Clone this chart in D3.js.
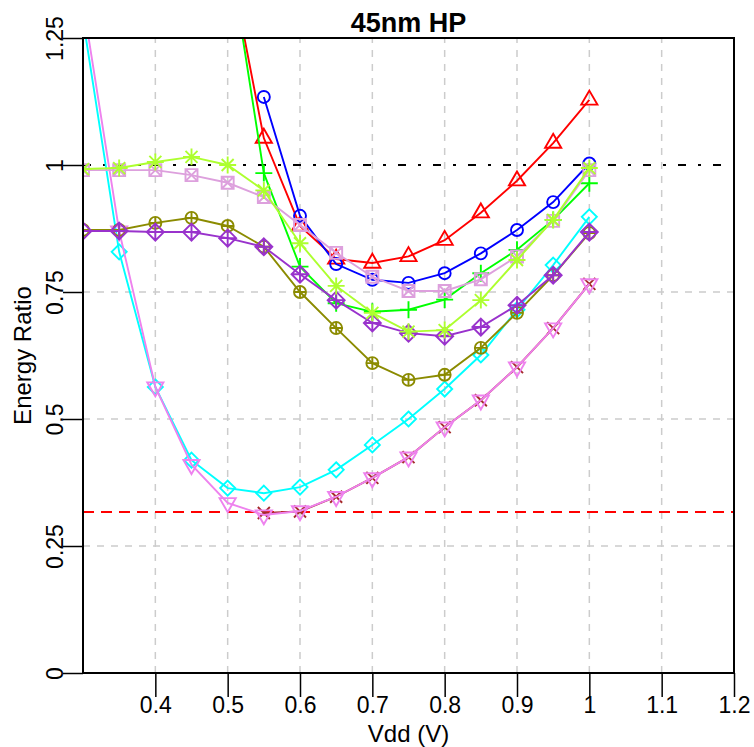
<!DOCTYPE html>
<html>
<head>
<meta charset="utf-8">
<script src="https://cdn.jsdelivr.net/npm/d3@7"></script>
<style>
  body { margin: 0; background: #fff; }
  text { font-family: "Liberation Sans", Arial, sans-serif; }
  .tick text { font-family: "Liberation Sans Narrow", "Liberation Sans", Arial, sans-serif; }
</style>
</head>
<body>
<div id="chart"></div>
<script>
const width = 754;
const height = 747;

// supply voltage sweep (V)
const vdd = [0.30, 0.35, 0.40, 0.45, 0.50, 0.55, 0.60, 0.65, 0.70, 0.75, 0.80, 0.85, 0.90, 0.95, 1.00];

// energy ratio per curve, null = not simulated
const redTriangle   = [null, null, null, null, 1.42, 1.053, 0.88, 0.815, 0.807, 0.82, 0.852, 0.906, 0.969, 1.043, 1.128];
const blueCircle    = [null, null, null, null, null, 1.134, 0.90, 0.805, 0.774, 0.768, 0.787, 0.826, 0.872, 0.927, 1.003];
const greenPlus     = [null, null, null, null, 1.44, 0.984, 0.80, 0.728, 0.711, 0.715, 0.735, 0.787, 0.833, 0.892, 0.964];
const cyanDiamond   = [1.287, 0.829, 0.563, 0.419, 0.364, 0.354, 0.366, 0.40, 0.449, 0.50, 0.559, 0.626, 0.715, 0.803, 0.898];
const brownCross    = [null, null, null, null, null, 0.315, 0.318, 0.347, 0.384, 0.425, 0.484, 0.537, 0.602, 0.679, 0.766];
const violetTri     = [1.32, 0.87, 0.563, 0.41, 0.335, 0.311, 0.319, 0.347, 0.384, 0.425, 0.484, 0.537, 0.602, 0.679, 0.766];
const oliveCircPlus = [0.872, 0.872, 0.886, 0.896, 0.88, 0.839, 0.75, 0.679, 0.61, 0.577, 0.587, 0.64, 0.709, 0.783, 0.866];
const purpleDiaPlus = [0.87, 0.87, 0.868, 0.868, 0.856, 0.839, 0.785, 0.734, 0.689, 0.669, 0.663, 0.681, 0.724, 0.783, 0.868];
const plumSquare    = [0.99, 0.99, 0.99, 0.98, 0.965, 0.937, 0.882, 0.827, 0.78, 0.752, 0.752, 0.775, 0.82, 0.89, 0.99];
const yellowStar    = [0.992, 0.994, 1.006, 1.016, 1.0, 0.95, 0.846, 0.762, 0.709, 0.672, 0.675, 0.734, 0.813, 0.892, 0.994];

// reference levels
const baseLevel = 1;
const minLevel = 0.317;

const xTicks = [0.4, 0.5, 0.6, 0.7, 0.8, 0.9, 1.0, 1.1, 1.2];
const yTicks = [0, 0.25, 0.5, 0.75, 1, 1.25];
const xGrid = [0.4, 0.5, 0.6, 0.7, 0.8, 0.9, 1.0, 1.1];
const yGrid = [0.25, 0.5, 0.75];

const series = [
  { values: redTriangle, color: "#ff0000", pch: 2 },
  { values: blueCircle, color: "#0000ff", pch: 1 },
  { values: greenPlus, color: "#00ff00", pch: 3 },
  { values: cyanDiamond, color: "#00ffff", pch: 5 },
  { values: brownCross, color: "#a52a2a", pch: 4 },
  { values: violetTri, color: "#ee82ee", pch: 6 },
  { values: oliveCircPlus, color: "#8b8b00", pch: 10 },
  { values: purpleDiaPlus, color: "#9932cc", pch: 9 },
  { values: plumSquare, color: "#dda0dd", pch: 7 },
  { values: yellowStar, color: "#adff2f", pch: 8 }
];

const margin = { top: 38, right: 20, bottom: 74, left: 83 };

const x = d3.scaleLinear().domain([0.3, 1.2]).range([margin.left, width - margin.right]);
const y = d3.scaleLinear().domain([0, 1.25]).range([height - margin.bottom, margin.top]);

const svg = d3.select("#chart").append("svg")
  .attr("width", width)
  .attr("height", height);

svg.append("defs").append("clipPath")
  .attr("id", "plotclip")
  .append("rect")
  .attr("x", x(0.3)).attr("y", y(1.25))
  .attr("width", x(1.2) - x(0.3)).attr("height", y(0) - y(1.25));

// grid
const grid = svg.append("g")
  .attr("stroke", "#cccccc")
  .attr("stroke-width", 1.5)
  .attr("stroke-dasharray", "7,7");
grid.selectAll(".vg").data(xGrid).enter().append("line")
  .attr("x1", d => x(d)).attr("x2", d => x(d))
  .attr("y1", y(0)).attr("y2", y(1.25));
grid.selectAll(".hg").data(yGrid).enter().append("line")
  .attr("x1", x(0.3)).attr("x2", x(1.2))
  .attr("y1", d => y(d)).attr("y2", d => y(d));

// reference lines
svg.append("line")
  .attr("x1", x(0.3)).attr("x2", x(1.2))
  .attr("y1", y(baseLevel)).attr("y2", y(baseLevel))
  .attr("stroke", "#000").attr("stroke-width", 2)
  .attr("stroke-dasharray", "8,12,3,12");
svg.append("line")
  .attr("x1", x(0.3)).attr("x2", x(1.2))
  .attr("y1", y(minLevel)).attr("y2", y(minLevel))
  .attr("stroke", "#ff0000").attr("stroke-width", 2)
  .attr("stroke-dasharray", "11,7");

// marker shapes, modelled on R's pch symbols
const s = 6;
function marker(g, pch) {
  const p = d3.path();
  if (pch === 1) {
    g.append("circle").attr("r", s);
    return;
  }
  if (pch === 2) {
    p.moveTo(0, -1.555 * s); p.lineTo(1.347 * s, 0.777 * s); p.lineTo(-1.347 * s, 0.777 * s); p.closePath();
  } else if (pch === 6) {
    p.moveTo(0, 1.555 * s); p.lineTo(1.347 * s, -0.777 * s); p.lineTo(-1.347 * s, -0.777 * s); p.closePath();
  } else if (pch === 3) {
    const c = 1.414 * s;
    p.moveTo(-c, 0); p.lineTo(c, 0); p.moveTo(0, -c); p.lineTo(0, c);
  } else if (pch === 4) {
    p.moveTo(-s, -s); p.lineTo(s, s); p.moveTo(-s, s); p.lineTo(s, -s);
  } else if (pch === 5) {
    const c = 1.253 * s;
    p.moveTo(0, -c); p.lineTo(c, 0); p.lineTo(0, c); p.lineTo(-c, 0); p.closePath();
  } else if (pch === 7) {
    p.rect(-s, -s, 2 * s, 2 * s);
    p.moveTo(-s, -s); p.lineTo(s, s); p.moveTo(-s, s); p.lineTo(s, -s);
  } else if (pch === 8) {
    const c = 1.414 * s;
    p.moveTo(-s, -s); p.lineTo(s, s); p.moveTo(-s, s); p.lineTo(s, -s);
    p.moveTo(-c, 0); p.lineTo(c, 0); p.moveTo(0, -c); p.lineTo(0, c);
  } else if (pch === 9) {
    const c = 1.414 * s;
    p.moveTo(0, -c); p.lineTo(c, 0); p.lineTo(0, c); p.lineTo(-c, 0); p.closePath();
    p.moveTo(-c, 0); p.lineTo(c, 0); p.moveTo(0, -c); p.lineTo(0, c);
  } else if (pch === 10) {
    g.append("circle").attr("r", s);
    p.moveTo(-s, 0); p.lineTo(s, 0); p.moveTo(0, -s); p.lineTo(0, s);
  }
  g.append("path").attr("d", p.toString());
}

const line = d3.line()
  .defined(d => d[1] != null)
  .x(d => x(d[0]))
  .y(d => y(d[1]));

const plot = svg.append("g").attr("clip-path", "url(#plotclip)");

series.forEach(function (sr) {
  const pts = vdd.map((v, i) => [v, sr.values[i]]);
  const g = plot.append("g")
    .attr("fill", "none")
    .attr("stroke", sr.color)
    .attr("stroke-width", 1.9);
  g.append("path").attr("d", line(pts));
  g.selectAll(".pt")
    .data(pts.filter(d => d[1] != null && d[1] <= 1.25))
    .enter().append("g")
    .attr("transform", d => "translate(" + x(d[0]) + "," + y(d[1]) + ")")
    .each(function () { marker(d3.select(this), sr.pch); });
});

// frame
svg.append("rect")
  .attr("x", x(0.3)).attr("y", y(1.25))
  .attr("width", x(1.2) - x(0.3)).attr("height", y(0) - y(1.25))
  .attr("fill", "none").attr("stroke", "#000").attr("stroke-width", 2);

// axes
const xAxis = svg.append("g")
  .attr("transform", "translate(0," + y(0) + ")")
  .call(d3.axisBottom(x).tickValues(xTicks).tickSize(24).tickFormat(d => String(+d.toFixed(2))));
xAxis.select(".domain").remove();
xAxis.selectAll("line").attr("stroke", "#000").attr("stroke-width", 1.5);
xAxis.selectAll("text")
  .attr("y", 40).attr("dy", 0)
  .style("font-size", "23px").attr("fill", "#000");

const yAxis = svg.append("g")
  .attr("transform", "translate(" + x(0.3) + ",0)")
  .call(d3.axisLeft(y).tickValues(yTicks).tickSize(20).tickFormat(d => String(d)));
yAxis.select(".domain").remove();
yAxis.selectAll("line").attr("stroke", "#000").attr("stroke-width", 1.5);
yAxis.selectAll("text")
  .attr("x", null).attr("dy", null)
  .attr("text-anchor", "middle")
  .attr("transform", "translate(-20,0) rotate(-90)")
  .style("font-size", "23px").attr("fill", "#000");

// titles
svg.append("text")
  .attr("x", (x(0.3) + x(1.2)) / 2)
  .attr("y", 32)
  .attr("text-anchor", "middle")
  .style("font-size", "27px")
  .style("font-weight", "bold")
  .text("45nm HP");

svg.append("text")
  .attr("x", (x(0.3) + x(1.2)) / 2)
  .attr("y", 742)
  .attr("text-anchor", "middle")
  .style("font-size", "24px")
  .text("Vdd (V)");

svg.append("text")
  .attr("transform", "translate(31," + (y(0) + y(1.25)) / 2 + ") rotate(-90)")
  .attr("text-anchor", "middle")
  .style("font-size", "24px")
  .text("Energy Ratio");
</script>
</body>
</html>
